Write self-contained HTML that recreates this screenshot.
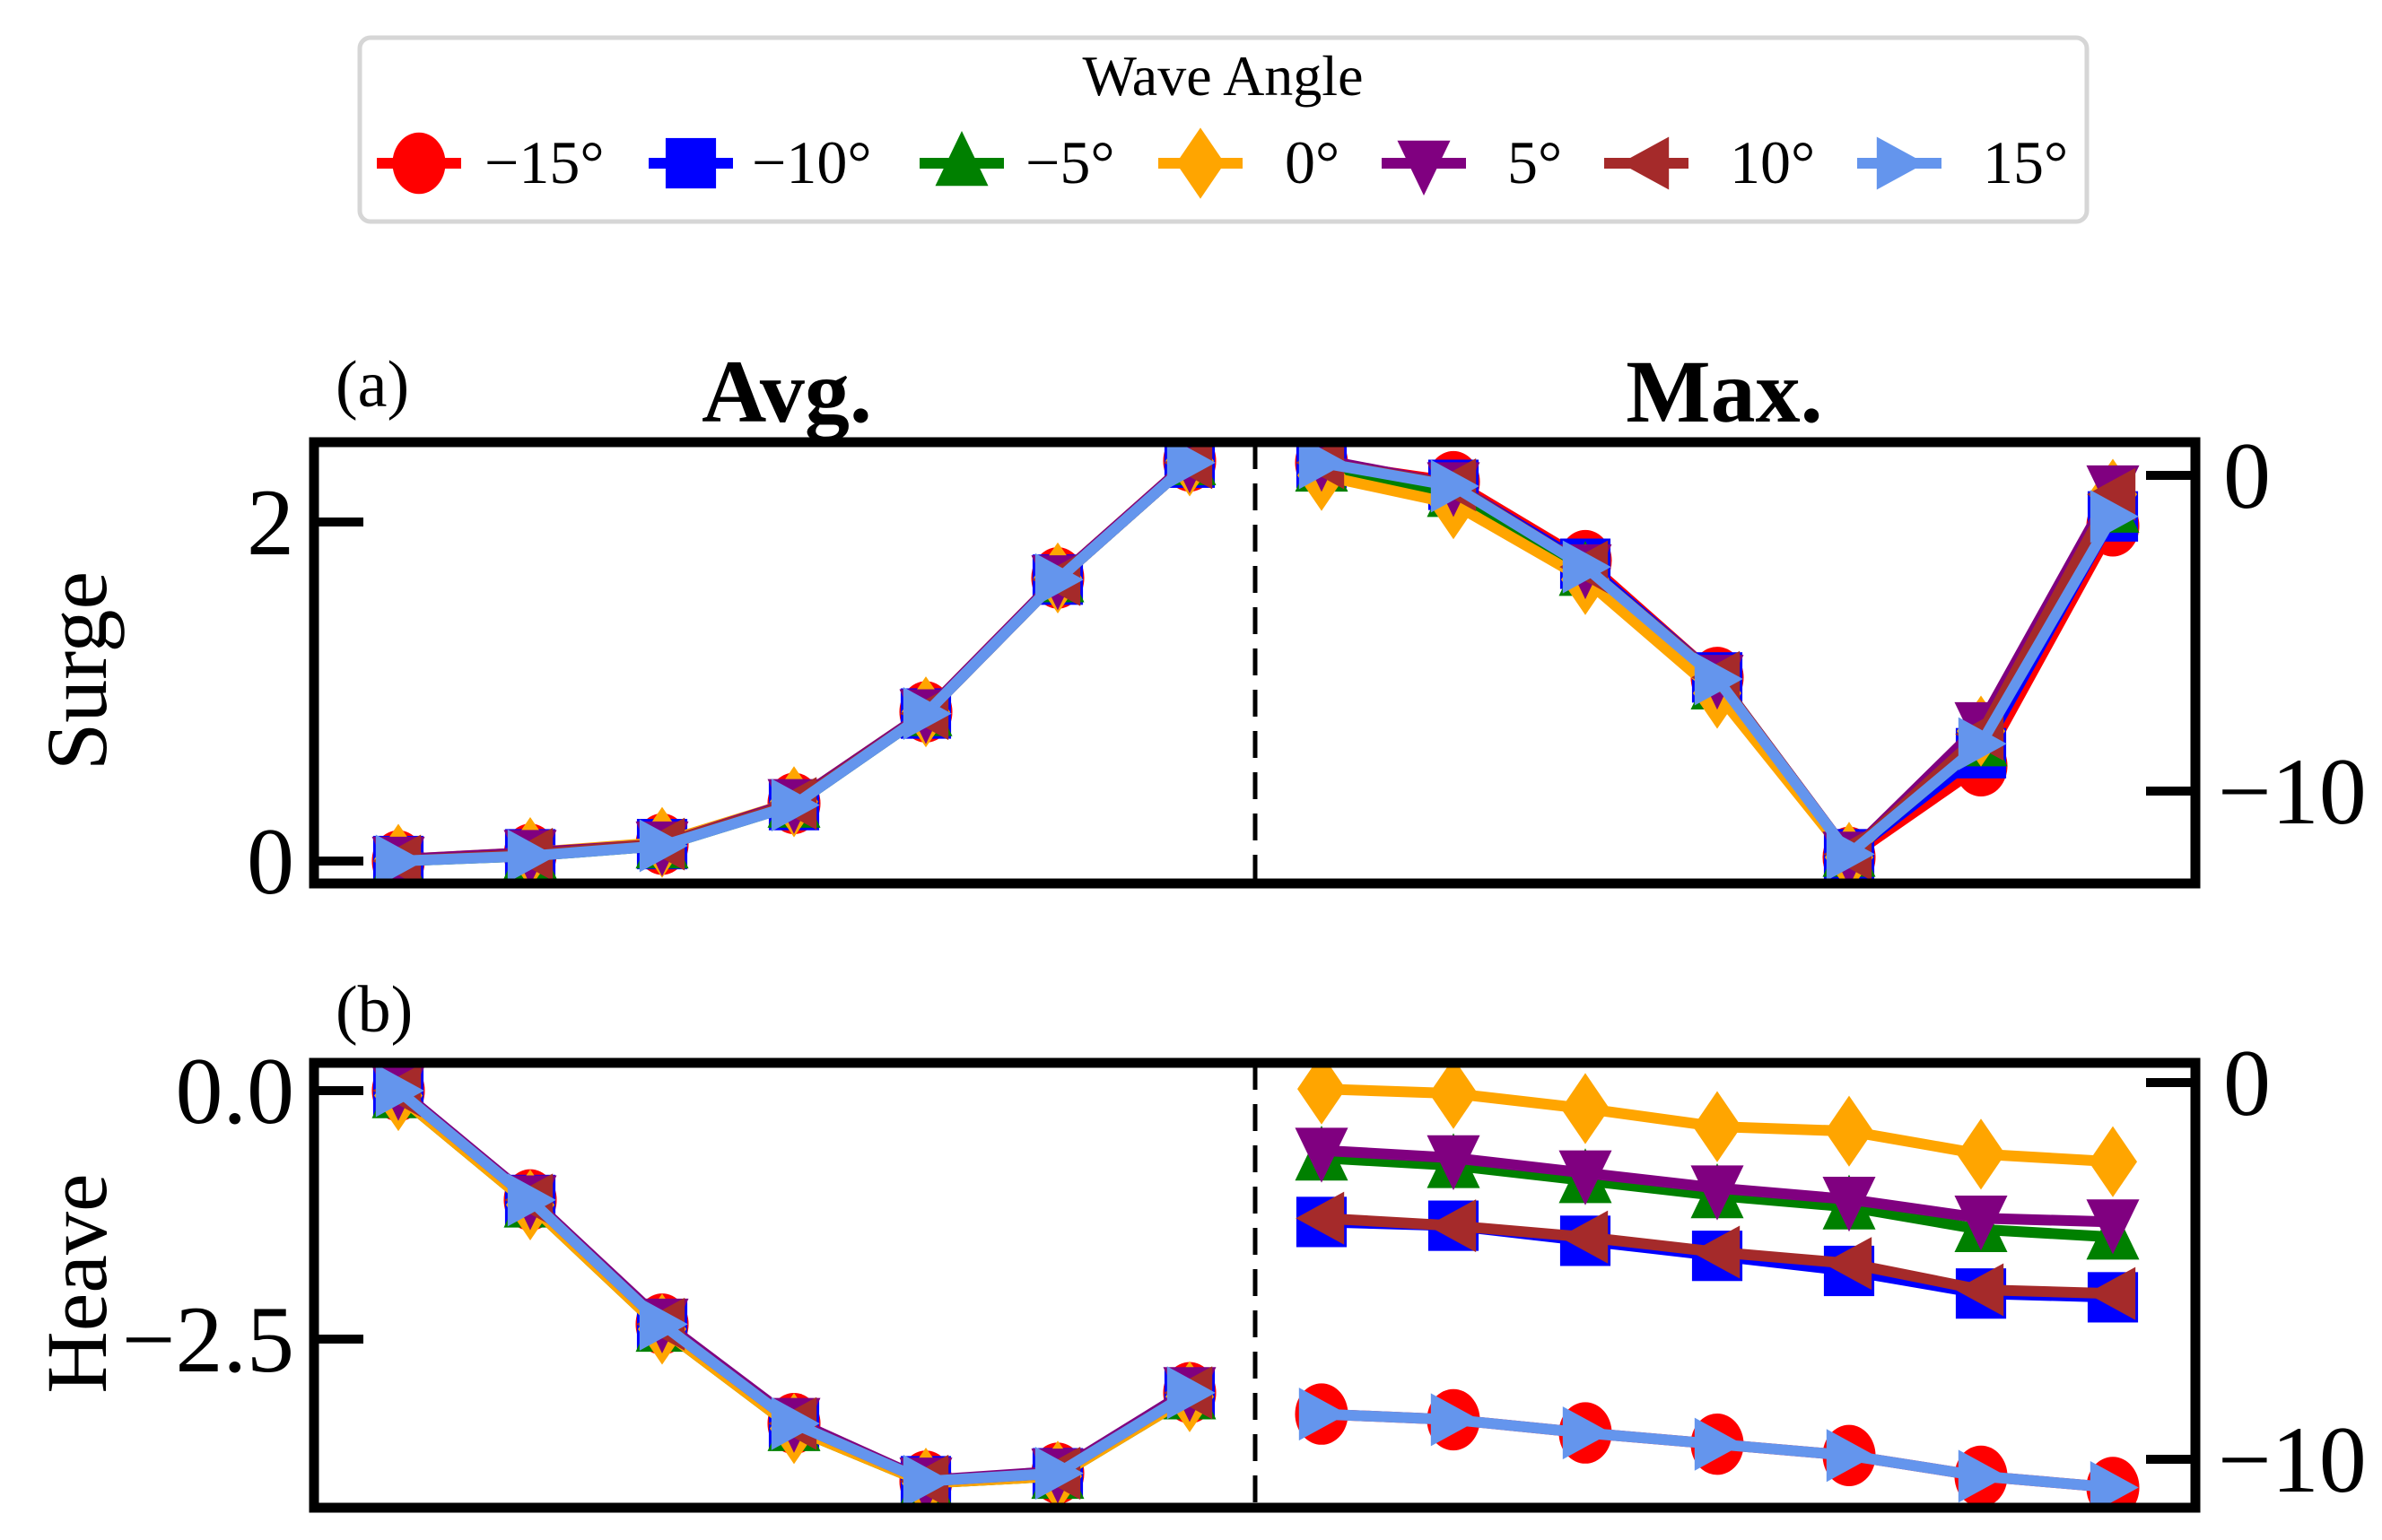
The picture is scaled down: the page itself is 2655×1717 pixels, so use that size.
<!DOCTYPE html>
<html><head><meta charset="utf-8"><style>
html,body{margin:0;padding:0;background:#fff;}
svg{display:block;font-family:"Liberation Serif",serif;}
</style></head><body>
<svg id="chart" width="2655" height="1717" viewBox="0 0 2655 1717" xmlns="http://www.w3.org/2000/svg">
<defs>
<clipPath id="clipA"><rect x="350" y="493" width="2097" height="492"/></clipPath>
<clipPath id="clipB"><rect x="350" y="1185" width="2097" height="496"/></clipPath>
</defs>
<g id="legend">
<rect x="401" y="42" width="1925" height="205" rx="12" fill="#fff" stroke="#d6d6d6" stroke-width="5"/>
<text x="1363" y="106" font-size="64" text-anchor="middle">Wave Angle</text>
</g>
<text x="374" y="453" font-size="74">(a)</text>
<text x="877" y="470" font-size="100" font-weight="bold" text-anchor="middle">Avg.</text>
<text x="1922" y="470" font-size="100" font-weight="bold" text-anchor="middle">Max.</text>
<text x="374" y="1150" font-size="74">(b)</text>
<text transform="translate(118,748) rotate(-90)" font-size="96" text-anchor="middle">Surge</text>
<text transform="translate(118,1431) rotate(-90)" font-size="96" text-anchor="middle">Heave</text>
<g id="plots"></g>
</svg>
<script>
const NS="http://www.w3.org/2000/svg";
const names=["−15°","−10°","−5°","0°","5°","10°","15°"];
const colors=["red","blue","green","orange","purple","brown","cornflowerblue"];
const shapes=["o","s","^","D","v","<",">"];
// Surge avg (left axis)
const surgeAvg=[
[0.00,0.04,0.10,0.34,0.88,1.67,2.36],
[0.00,0.04,0.10,0.33,0.87,1.66,2.35],
[0.00,0.03,0.09,0.33,0.87,1.66,2.35],
[0.01,0.05,0.11,0.35,0.88,1.67,2.36],
[0.01,0.05,0.10,0.35,0.88,1.67,2.36],
[0.00,0.04,0.10,0.34,0.87,1.66,2.35],
[0.00,0.03,0.09,0.33,0.87,1.66,2.35]];
// Surge max (right axis)
const surgeMax=[
[0.4,-0.2,-2.7,-6.4,-12.1,-9.2,-1.6],
[0.4,-0.3,-2.8,-6.4,-12.0,-8.8,-1.3],
[0.2,-0.6,-3.1,-6.7,-12.0,-8.5,-1.1],
[0.0,-0.9,-3.3,-6.9,-12.1,-8.1,-0.6],
[0.5,-0.3,-2.9,-6.4,-12.0,-7.9,-0.4],
[0.4,-0.3,-2.9,-6.4,-12.0,-8.2,-0.6],
[0.4,-0.34,-2.9,-6.45,-12.0,-8.5,-1.3]];
// Heave avg (left axis)
const heaveAvg=[
[0.00,-1.10,-2.35,-3.35,-3.93,-3.85,-3.04],
[0.00,-1.10,-2.35,-3.35,-3.93,-3.85,-3.04],
[-0.05,-1.15,-2.40,-3.40,-3.95,-3.88,-3.08],
[-0.05,-1.15,-2.40,-3.40,-3.95,-3.88,-3.08],
[0.02,-1.08,-2.32,-3.32,-3.92,-3.83,-3.01],
[0.00,-1.10,-2.35,-3.35,-3.93,-3.85,-3.04],
[0.00,-1.10,-2.35,-3.35,-3.93,-3.85,-3.04]];
// Heave max (right axis)
const heaveMax=[
[-8.8,-8.95,-9.3,-9.6,-9.9,-10.45,-10.75],
[-3.7,-3.8,-4.2,-4.6,-5.0,-5.6,-5.7],
[-2.0,-2.2,-2.6,-3.0,-3.3,-3.9,-4.1],
[-0.17,-0.29,-0.69,-1.17,-1.29,-1.9,-2.1],
[-1.8,-2.0,-2.4,-2.8,-3.1,-3.6,-3.7],
[-3.6,-3.8,-4.1,-4.5,-4.8,-5.5,-5.6],
[-8.8,-8.95,-9.3,-9.6,-9.9,-10.45,-10.75]];
const surgeLeftTicks=[0,2], surgeRightTicks=[0,-10];
const heaveLeftTicks=[0.0,-2.5], heaveRightTicks=[0,-10];
const heaveLeftLabels=["0.0","−2.5"];

const X0=350,X1=2447;
const xs=i=>444+147*i;
function lin(v0,p0,v1,p1){return v=>p0+(v-v0)*(p1-p0)/(v1-v0);}
const plots=document.getElementById('plots');
function el(tag,attrs,parent){const e=document.createElementNS(NS,tag);for(const k in attrs)e.setAttribute(k,attrs[k]);(parent||plots).appendChild(e);return e;}
function marker(shape,x,y,r,color,g){
  let e;
  if(shape==="o") e=el('ellipse',{cx:x,cy:y,rx:r*0.82,ry:r*0.95,fill:color},g);
  else if(shape==="s") e=el('rect',{x:x-r*0.78,y:y-r*0.78,width:r*1.56,height:r*1.56,fill:color},g);
  else {
    let p;
    if(shape==="^") p=[[x,y-r],[x+r*0.82,y+r*0.7],[x-r*0.82,y+r*0.7]];
    if(shape==="v") p=[[x,y+r],[x+r*0.82,y-r*0.7],[x-r*0.82,y-r*0.7]];
    if(shape==="<") p=[[x-r*0.8,y],[x+r*0.7,y-r*0.82],[x+r*0.7,y+r*0.82]];
    if(shape===">") p=[[x+r*0.8,y],[x-r*0.7,y-r*0.82],[x-r*0.7,y+r*0.82]];
    if(shape==="D") p=[[x,y-r*1.1],[x+r*0.75,y],[x,y+r*1.1],[x-r*0.75,y]];
    e=el('polygon',{points:p.map(q=>q.join(',')).join(' '),fill:color},g);
  }
  return e;
}
function panel(id,top,bot,leftData,rightData,yL,yR,lt,ltl,rt,clip){
  const g=el('g',{'clip-path':'url(#'+clip+')'});
  
  
  for(let s=0;s<7;s++){
    const sg=el('g',{},g);
    
    
    [[leftData,yL,0],[rightData,yR,7]].forEach(([d,ys,off])=>{
      const pts=d[s].map((v,i)=>[xs(i+off),ys(v)]);
      const pl=el('polyline',{points:pts.map(p=>p.join(',')).join(' '),fill:'none',stroke:colors[s],'stroke-width':12,'stroke-linejoin':'round'},sg);
      
      
      pts.forEach(p=>{const m=marker(shapes[s],p[0],p[1],36,colors[s],sg);
        
        });
    });
  }
  const dl=el('line',{x1:1399,x2:1399,y1:top,y2:bot,stroke:'#000','stroke-width':5,'stroke-dasharray':'30 16'});
  
  
  const fr=el('rect',{x:X0,y:top,width:X1-X0,height:bot-top,fill:'none',stroke:'#000','stroke-width':11});
  
  
  lt.forEach((v,i)=>{const y=yL(v);
    const t=el('line',{x1:X0,x2:X0+55,y1:y,y2:y,stroke:'#000','stroke-width':10});
    
    
    const tx=el('text',{x:X0-22,y:y+36,'font-size':106,'text-anchor':'end'});
    tx.textContent=ltl[i];
    
    });
  rt.forEach(v=>{const y=yR(v);
    const t=el('line',{x1:X1-55,x2:X1,y1:y,y2:y,stroke:'#000','stroke-width':10});
    
    
    const tx=el('text',{x:v<0?2472:2478,y:y+36,'font-size':106});
    tx.textContent=v<0?'−'+Math.abs(v):String(v);
    
    });
}
panel('surge',493,985,surgeAvg,surgeMax,lin(0,960,2,582),lin(0,530,-10,882),surgeLeftTicks,surgeLeftTicks.map(String),surgeRightTicks,'clipA');
panel('heave',1185,1681,heaveAvg,heaveMax,lin(0,1216,-2.5,1493),lin(0,1207,-10,1627),heaveLeftTicks,heaveLeftLabels,heaveRightTicks,'clipB');

// legend entries
const leg=document.getElementById('legend');
const lx=[467,770,1072,1338,1587,1835,2117], lab=[540,838,1143,1432,1680,1928,2210];
for(let s=0;s<7;s++){
  const g=el('g',{},leg);
  
  
  el('line',{x1:lx[s]-47,x2:lx[s]+47,y1:182,y2:182,stroke:colors[s],'stroke-width':12},g);
  marker(shapes[s],lx[s],182,36,colors[s],g);
  const t=el('text',{x:lab[s],y:204,'font-size':68},g);
  t.textContent=names[s];
}
</script>
</body></html>
